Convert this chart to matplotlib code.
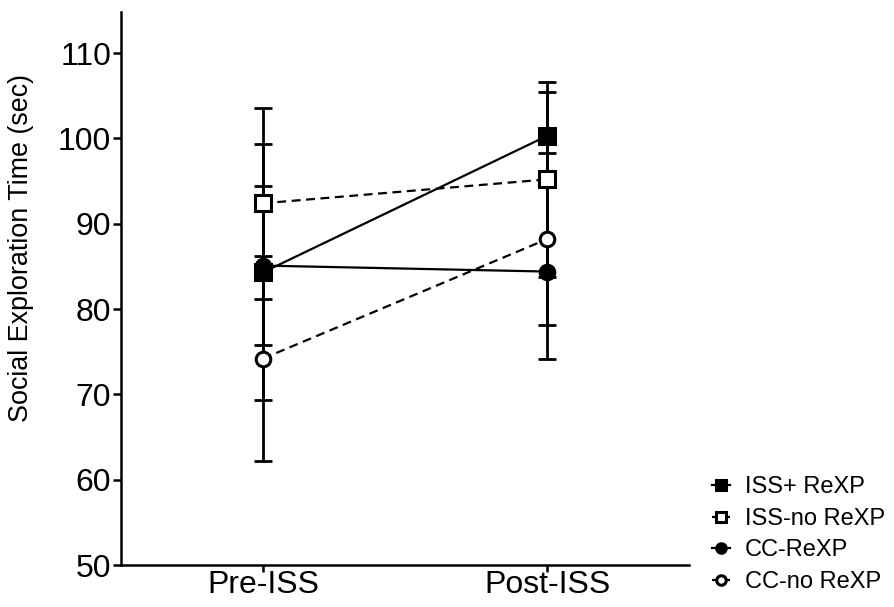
import numpy as np
import matplotlib
matplotlib.use('Agg')
import matplotlib.pyplot as plt

plt.rcParams['font.family'] = ['Liberation Sans', 'DejaVu Sans']

groups = ['Pre-ISS', 'Post-ISS']
series = ['ISS+ ReXP', 'ISS-no ReXP', 'CC-ReXP', 'CC-no ReXP']

# means and SEM
iss_rexp = [84.3, 100.3]
iss_rexp_err = [15.0, 5.2]
iss_norexp = [92.4, 95.2]
iss_norexp_err = [11.2, 11.4]
cc_rexp = [85.1, 84.4]
cc_rexp_err = [9.3, 10.2]
cc_norexp = [74.2, 88.2]
cc_norexp_err = [12.0, 10.1]

means = [iss_rexp, iss_norexp, cc_rexp, cc_norexp]
errs = [iss_rexp_err, iss_norexp_err, cc_rexp_err, cc_norexp_err]
markers = ['s', 's', 'o', 'o']
faces = ['black', 'white', 'black', 'white']
styles = ['-', (0, (4, 2.5)), '-', (0, (4, 2.5))]
sizes = [11, 11, 10.5, 10.5]

fig = plt.figure(figsize=(8.95, 6.07), dpi=100)
ax = fig.add_axes([0.135, 0.069, 0.635, 0.911])

x = np.arange(len(groups))
for i in range(len(series)):
    ax.errorbar(x, means[i], yerr=errs[i], fmt='none', ecolor='black',
                elinewidth=2, capsize=6.5, capthick=2, zorder=2)
for i in range(len(series)):
    ax.plot(x, means[i], linestyle=styles[i], color='black', lw=1.6,
            marker=markers[i], markersize=sizes[i], markerfacecolor=faces[i],
            markeredgecolor='black', markeredgewidth=2.2, label=series[i],
            zorder=3)

ax.set_xlim(-0.5, 1.5)
ax.set_ylim(50, 114.8)
ax.set_yticks(range(50, 111, 10))
ax.set_xticks(x)
ax.set_xticklabels(groups)
ax.set_ylabel('Social Exploration Time (sec)', fontsize=19.4)
ax.yaxis.set_label_coords(-0.152, 0.573)
ax.tick_params(labelsize=23, width=1.8, length=6, direction='out')
ax.tick_params(axis='y', pad=1)
ax.tick_params(axis='x', length=5, pad=-1.5)
for s in ['top', 'right']:
    ax.spines[s].set_visible(False)
for s in ['left', 'bottom']:
    ax.spines[s].set_linewidth(1.8)

fig.legend(loc='upper left', bbox_to_anchor=(0.795, 0.215), frameon=False,
           fontsize=17, handlelength=0.8, handletextpad=0.6,
           labelspacing=0.4, markerscale=0.65, borderaxespad=0, borderpad=0)

fig.savefig('out.png', dpi=100)
